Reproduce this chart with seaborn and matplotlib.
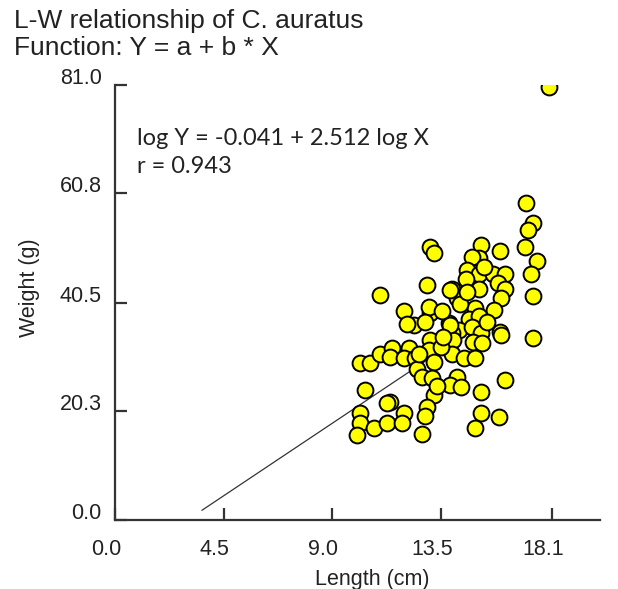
import numpy as np
import pandas as pd
import seaborn as sns
from matplotlib import pyplot as plt
from matplotlib.transforms import ScaledTranslation

# fish lengths (cm) and weights (g)
length_cm = [18.0,
             17.05, 17.33, 17.12, 16.99, 17.47, 17.26, 17.33, 17.33, 15.15, 15.08,
             14.80, 15.95, 14.60, 15.08, 15.67, 16.18, 14.56, 13.97, 15.08, 15.88,
             16.18, 14.18, 15.98, 14.94, 15.70, 14.66, 15.08, 13.83, 14.25, 14.80,
             15.15, 15.95, 13.97,
             14.00, 14.85, 15.20, 13.97, 14.45, 14.94, 15.98, 14.18, 13.90, 14.32,
             16.18, 15.15, 15.15, 15.90, 14.94,
             13.04, 13.21, 12.93, 11.00, 11.99, 12.40, 12.10, 13.04, 13.00, 13.55,
             12.86, 13.90, 13.90,
             10.17, 10.58, 11.00, 11.48, 11.41, 12.17, 11.96, 12.45, 13.07, 13.00,
             13.49, 13.21, 12.52, 12.73, 13.14, 13.21, 10.37, 11.41, 11.27, 12.93,
             10.17, 11.96, 12.86, 10.17, 10.72, 11.27, 11.90, 10.03, 12.73,
             15.30, 14.30, 15.40, 13.60, 12.60, 14.60, 13.35]
weight_g = [80.6,
            59.1, 55.3, 54.0, 50.9, 48.2, 45.8, 41.8, 33.9, 51.2, 48.7,
            48.9, 50.0, 46.6, 45.9, 45.9, 45.9, 44.8, 43.1, 43.1, 44.1,
            43.1, 41.3, 41.3, 39.4, 39.1, 37.5, 37.9, 36.6, 35.4, 36.0,
            34.8, 35.1, 34.8,
            33.5, 33.2, 32.9, 31.0, 30.1, 30.1, 34.4, 26.7, 25.1, 24.8,
            26.1, 23.9, 19.9, 19.2, 17.1,
            50.9, 49.7, 43.8, 41.9, 39.0, 36.3, 36.5, 38.5, 39.7, 39.0,
            36.9, 42.8, 36.3,
            29.2, 29.2, 31.0, 32.0, 30.4, 32.0, 30.1, 30.1, 33.5, 31.7,
            32.3, 29.5, 28.2, 26.7, 26.4, 23.3, 24.2, 22.0, 21.7, 21.1,
            19.9, 19.9, 19.3, 18.0, 17.1, 18.0, 18.0, 15.8, 16.1,
            47.2, 40.2, 36.8, 34.0, 31.0, 42.5, 25.0]

# straight fitted line as drawn
fit_a = -9.0
fit_b = 3.0
fit_x = [3.6, 15.0]

x_ticks = [0.0, 4.5, 9.0, 13.5, 18.1]
y_ticks = [0.0, 20.3, 40.5, 60.8, 81.0]

df = pd.DataFrame({'Length': length_cm, 'Weight': weight_g})
fit_df = pd.DataFrame({'Length': fit_x})
fit_df['Weight'] = fit_a + fit_b * fit_df['Length']

sns.set_style('ticks')
plt.rcParams['font.family'] = ['Liberation Sans', 'DejaVu Sans']

fig = plt.figure(figsize=(6.18, 5.89), dpi=100)
ax = fig.add_axes([115 / 618, 69 / 589, 485 / 618, 435 / 589])

sns.lineplot(data=fit_df, x='Length', y='Weight', ax=ax, color='#333333',
             linewidth=0.9, zorder=1)
sns.scatterplot(data=df, x='Length', y='Weight', ax=ax, color='#ffff00',
                edgecolor='black', linewidth=1.4, s=130, zorder=2)

ax.set_xlim(0, 20.1)
ax.set_ylim(0, 81.0)
ax.set_xticks(x_ticks)
ax.set_yticks(y_ticks)
ax.set_xticklabels([f'{t:.1f}' for t in x_ticks])
ax.set_yticklabels([f'{t:.1f}' for t in y_ticks])

sns.despine(ax=ax)
for side in ['left', 'bottom']:
    ax.spines[side].set_color('#333333')
    ax.spines[side].set_linewidth(1.6)
ax.tick_params(direction='in', length=8.5, width=1.6, color='#333333',
               labelsize=15.5, labelcolor='#222222')
ax.tick_params(axis='y', pad=9.5)
ax.tick_params(axis='x', pad=14)

# labels sit a bit off their ticks in the original
for lbl in ax.get_yticklabels():
    lbl.set_transform(lbl.get_transform() + ScaledTranslation(0, 0.09, fig.dpi_scale_trans))
for lbl in ax.get_xticklabels():
    lbl.set_transform(lbl.get_transform() + ScaledTranslation(-0.09, 0, fig.dpi_scale_trans))

ax.set_xlabel('Length (cm)', fontsize=15.5, color='#222222')
ax.set_ylabel('Weight (g)', fontsize=15.5, color='#222222')
ax.xaxis.set_label_coords(0.531, -0.112)
ax.yaxis.set_label_coords(-0.155, 0.535)

ax.text(0.045, 0.876, 'log Y = -0.041 + 2.512 log X', transform=ax.transAxes,
        fontsize=17, family=['Lato', 'DejaVu Sans'], color='#222222', va='center')
ax.text(0.045, 0.812, 'r = 0.943', transform=ax.transAxes,
        fontsize=17, family=['Lato', 'DejaVu Sans'], color='#222222', va='center')

fig.text(0.022, 1 - 21 / 589, 'L-W relationship of C. auratus', fontsize=19,
         color='#222222', va='center')
fig.text(0.022, 1 - 48 / 589, 'Function: Y = a + b * X', fontsize=19,
         color='#222222', va='center')

fig.savefig('out.png', dpi=100)
